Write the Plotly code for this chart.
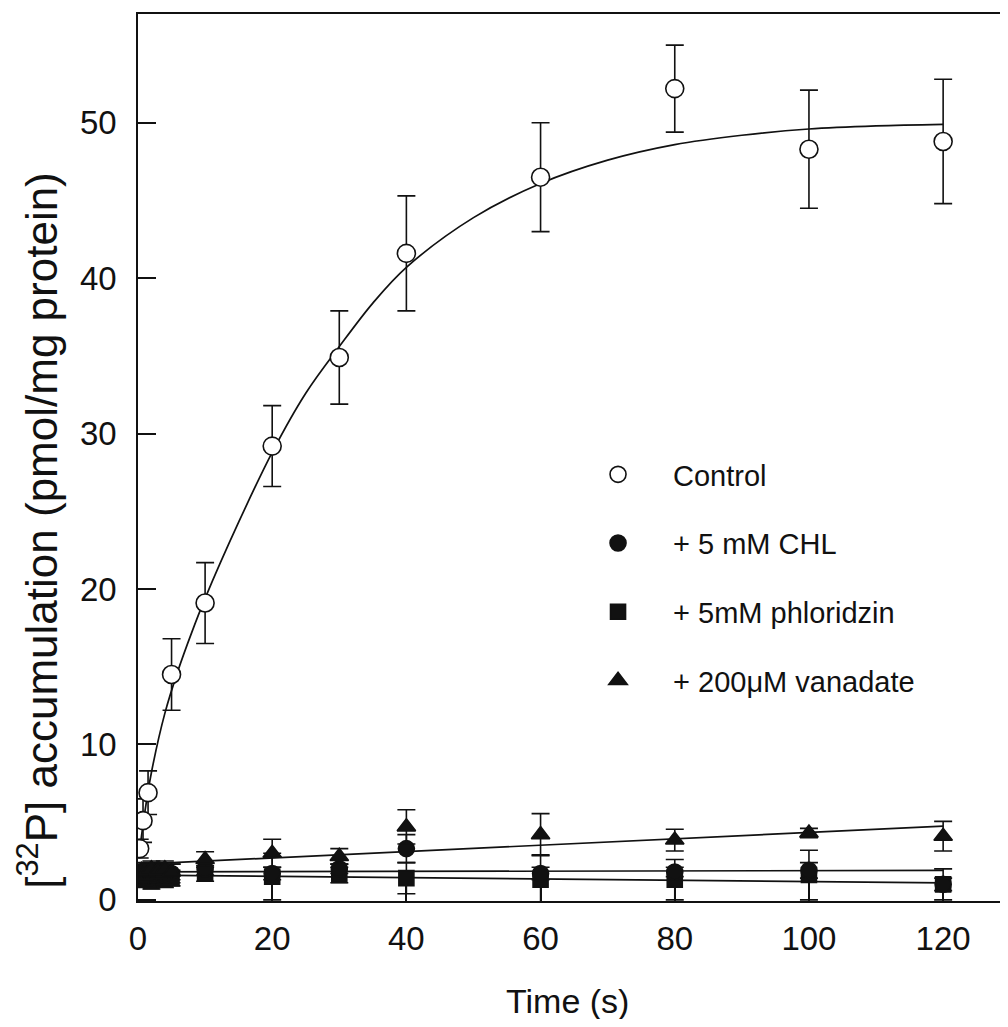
import plotly.graph_objects as go

# ---- data ----
t_ctrl = [0.25, 0.75, 1.5, 5, 10, 20, 30, 40, 60, 80, 100, 120]
y_ctrl = [3.3, 5.1, 6.9, 14.5, 19.1, 29.2, 34.9, 41.6, 46.5, 52.2, 48.3, 48.8]
e_ctrl = [0.6, 1.4, 1.4, 2.3, 2.6, 2.6, 3.0, 3.7, 3.5, 2.8, 3.8, 4.0]

t_fit_ctrl = [0.25, 1, 2, 4, 6, 8, 10, 15, 20, 25, 30, 35, 40, 50, 60, 70, 80, 90, 100, 110, 120]
y_fit_ctrl = [3.2, 5.6, 8.2, 12.0, 14.8, 17.2, 19.4, 24.3, 28.8, 32.6, 35.6, 38.4, 40.7,
              43.9, 46.1, 47.6, 48.6, 49.2, 49.6, 49.8, 49.9]

t_low = [0.5, 1, 2, 3, 4, 5, 10, 20, 30, 40, 60, 80, 100, 120]
y_chl = [1.6, 1.5, 1.8, 1.7, 1.6, 1.7, 2.0, 1.7, 2.0, 3.3, 1.7, 1.8, 1.9, 1.0]
e_chl = [0.6, 0.6, 0.6, 0.6, 0.6, 0.6, 0.4, 0.4, 0.3, 0.9, 0.4, 0.3, 0.5, 0.4]
y_phl = [1.3, 1.4, 1.2, 1.5, 1.3, 1.4, 1.7, 1.5, 1.6, 1.4, 1.3, 1.3, 1.6, 1.0]
e_phl = [0.5, 0.5, 0.5, 0.5, 0.5, 0.5, 0.5, 1.5, 0.5, 1.0, 1.6, 1.3, 1.6, 1.0]
y_van = [1.9, 1.8, 2.0, 1.9, 2.0, 1.8, 2.6, 3.0, 2.8, 4.7, 4.2, 3.85, 4.3, 4.1]
e_van = [0.5, 0.5, 0.5, 0.5, 0.5, 0.5, 0.5, 0.9, 0.5, 1.1, 1.35, 0.7, 0.3, 0.95]

t_fit_low = [0.5, 120]
y_fit_chl = [1.8, 1.9]
y_fit_phl = [1.6, 1.1]
y_fit_van = [2.3, 4.75]

x_ticks = [0, 20, 40, 60, 80, 100, 120]
y_ticks = [0, 10, 20, 30, 40, 50]

FONT = "Liberation Sans, Arial, sans-serif"
BLACK = "#111111"

fig = go.Figure()

def line_trace(x, y, shape="linear"):
    return go.Scatter(x=x, y=y, mode="lines", showlegend=False, hoverinfo="skip",
                      line=dict(color=BLACK, width=1.7, shape=shape, smoothing=1.0))

fig.add_trace(line_trace(t_fit_low, y_fit_chl))
fig.add_trace(line_trace(t_fit_low, y_fit_phl))
fig.add_trace(line_trace(t_fit_low, y_fit_van))
fig.add_trace(line_trace(t_fit_ctrl, y_fit_ctrl, "spline"))

def pts(x, y, e, name, symbol, fill, size, group, rank):
    return go.Scatter(
        x=x, y=y, mode="markers", name=name, legendgroup=group, legendrank=rank,
        marker=dict(symbol=symbol, size=size, color=fill, line=dict(color=BLACK, width=1.6)),
        error_y=dict(type="data", array=e, visible=True, color=BLACK, thickness=1.6, width=9),
    )

fig.add_trace(pts(t_low, y_phl, e_phl, "+ 5mM phloridzin", "square", BLACK, 15, "c", 3))
fig.add_trace(pts(t_low, y_chl, e_chl, "+ 5 mM CHL", "circle", BLACK, 16, "b", 2))
fig.add_trace(pts(t_low, y_van, e_van, "+ 200μM vanadate", "triangle-up", BLACK, 16, "d", 4))
fig.add_trace(pts(t_ctrl, y_ctrl, e_ctrl, "Control", "circle", "white", 18, "a", 1))

fig.update_layout(
    width=1000, height=1011,
    margin=dict(l=130, r=2, t=6, b=118),
    paper_bgcolor="white", plot_bgcolor="white",
    font=dict(family=FONT, color=BLACK),
    showlegend=True,
    legend=dict(
        x=0.4908, y=0.5096, xanchor="left", yanchor="top",
        font=dict(size=29, family=FONT, color=BLACK),
        traceorder="grouped", tracegroupgap=28,
        itemwidth=100, bgcolor="rgba(0,0,0,0)",
    ),
    xaxis=dict(
        range=[0, 129.07], tickvals=x_ticks, ticks="inside", ticklen=18, tickwidth=1.6,
        tickcolor=BLACK, showline=True, linecolor=BLACK, linewidth=1.6, mirror=True,
        showgrid=False, zeroline=False, tickfont=dict(size=33, family=FONT, color=BLACK),
        ticklabelstandoff=8,
    ),
    yaxis=dict(
        range=[-0.07, 57.0], tickvals=y_ticks, ticks="inside", ticklen=18, tickwidth=1.6,
        tickcolor=BLACK, showline=True, linecolor=BLACK, linewidth=1.6, mirror=True,
        showgrid=False, zeroline=False, tickfont=dict(size=33, family=FONT, color=BLACK),
        ticklabelstandoff=13,
    ),
    annotations=[
        dict(text="Time (s)", xref="paper", yref="paper", x=0.4965, y=-0.1125,
             xanchor="center", yanchor="middle", showarrow=False,
             font=dict(size=34, family=FONT, color=BLACK)),
        dict(text="[<sup>32</sup>P] accumulation (pmol/mg protein)", xref="paper", yref="paper",
             x=-0.116, y=0.418, xanchor="center", yanchor="middle", textangle=-90,
             showarrow=False, font=dict(size=44, family=FONT, color=BLACK)),
    ],
)

fig.write_html("out.html")
